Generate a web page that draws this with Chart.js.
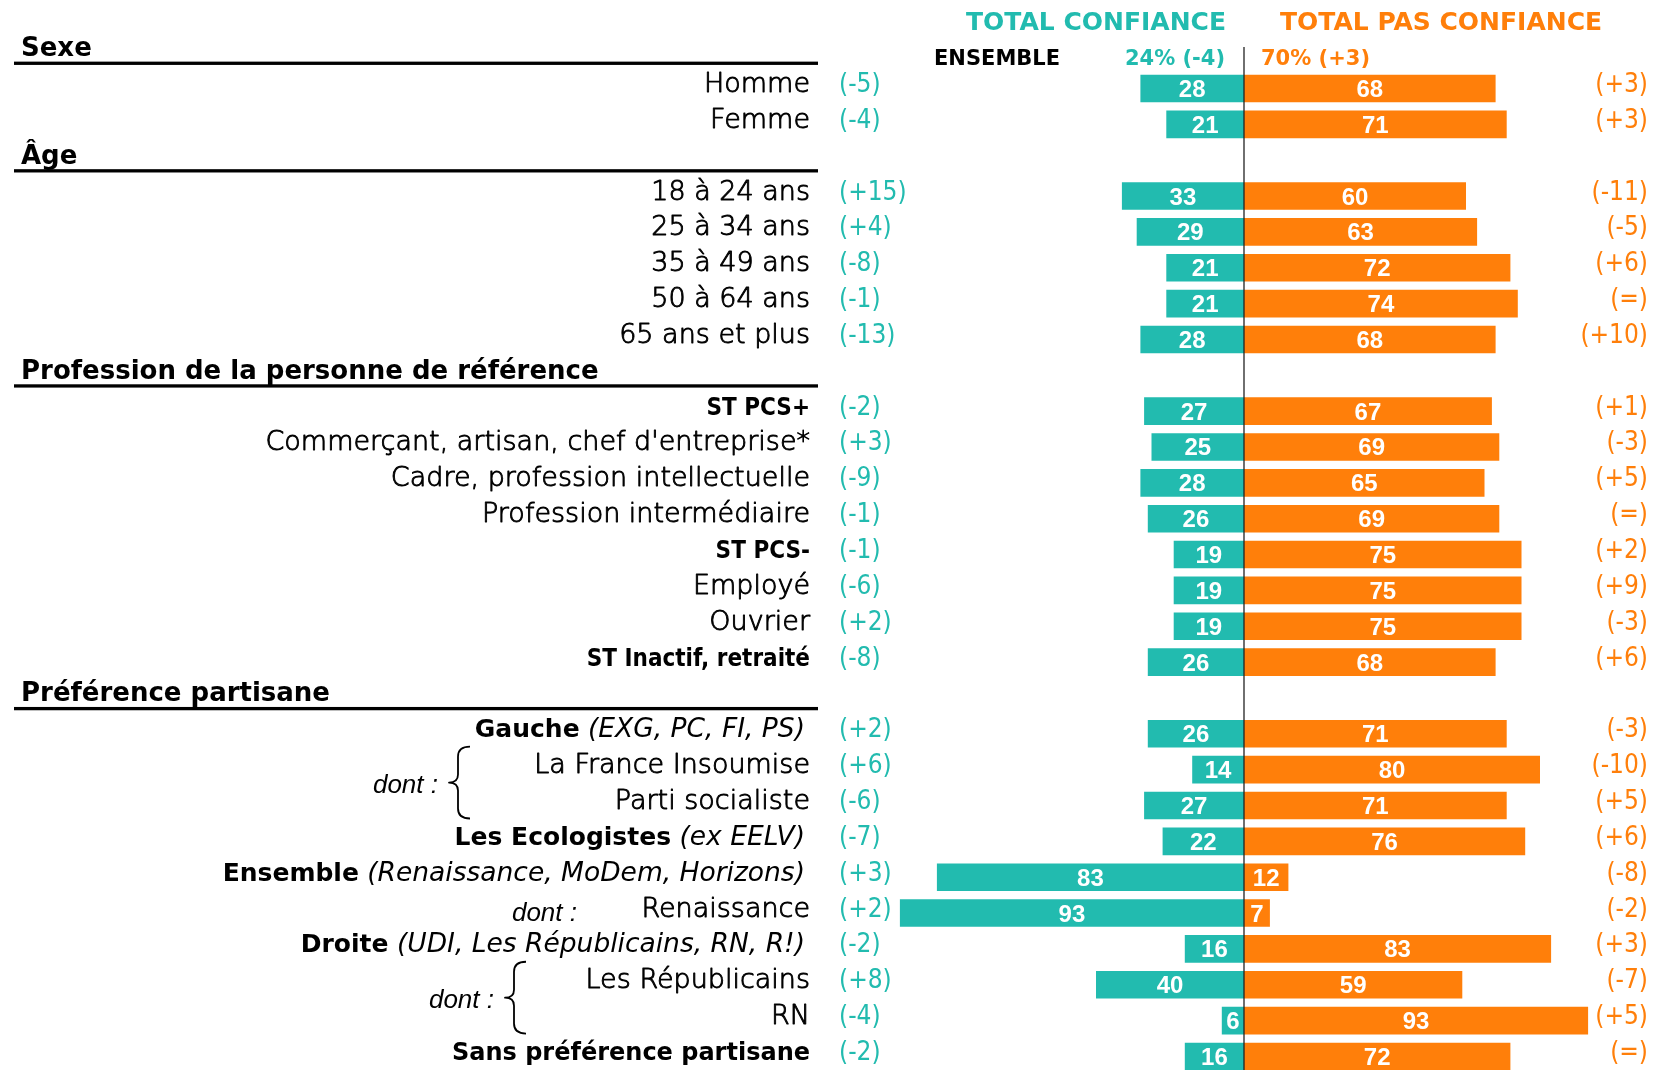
<!DOCTYPE html>
<html lang="fr">
<head>
<meta charset="utf-8">
<title>Confiance</title>
<script src="https://cdn.jsdelivr.net/npm/chart.js@4.4.1/dist/chart.umd.min.js"></script>
<style>
  html, body { margin: 0; padding: 0; background: #fff; overflow: hidden; }
  canvas { display: block; }
</style>
</head>
<body>
<canvas id="chart" width="1653" height="1090"></canvas>
<script>
// rows, including the four section headers (no bars on those)
const categories = [
  "Sexe", "Homme", "Femme",
  "Âge", "18 à 24 ans", "25 à 34 ans", "35 à 49 ans", "50 à 64 ans", "65 ans et plus",
  "Profession de la personne de référence", "ST PCS+", "Commerçant, artisan, chef d'entreprise*",
  "Cadre, profession intellectuelle", "Profession intermédiaire", "ST PCS-", "Employé", "Ouvrier", "ST Inactif, retraité",
  "Préférence partisane", "Gauche", "La France Insoumise", "Parti socialiste", "Les Ecologistes", "Ensemble",
  "Renaissance", "Droite", "Les Républicains", "RN", "Sans préférence partisane"
];
const headerRows = ["Sexe", "Âge", "Profession de la personne de référence", "Préférence partisane"];
const boldRows = ["ST PCS+", "ST PCS-", "ST Inactif, retraité", "Gauche", "Les Ecologistes", "Ensemble", "Droite", "Sans préférence partisane"];
const italicSuffix = {
  "Gauche": "(EXG, PC, FI, PS)",
  "Les Ecologistes": "(ex EELV)",
  "Ensemble": "(Renaissance, MoDem, Horizons)",
  "Droite": "(UDI, Les Républicains, RN, R!)"
};

const confiance = [null, 28, 21, null, 33, 29, 21, 21, 28, null, 27, 25, 28, 26, 19, 19, 19, 26, null, 26, 14, 27, 22, 83, 93, 16, 40, 6, 16];
const pasConfiance = [null, 68, 71, null, 60, 63, 72, 74, 68, null, 67, 69, 65, 69, 75, 75, 75, 68, null, 71, 80, 71, 76, 12, 7, 83, 59, 93, 72];
const evolConfiance = [null, "(-5)", "(-4)", null, "(+15)", "(+4)", "(-8)", "(-1)", "(-13)", null, "(-2)", "(+3)", "(-9)", "(-1)", "(-1)", "(-6)", "(+2)", "(-8)", null, "(+2)", "(+6)", "(-6)", "(-7)", "(+3)", "(+2)", "(-2)", "(+8)", "(-4)", "(-2)"];
const evolPasConfiance = [null, "(+3)", "(+3)", null, "(-11)", "(-5)", "(+6)", "(=)", "(+10)", null, "(+1)", "(-3)", "(+5)", "(=)", "(+2)", "(+9)", "(-3)", "(+6)", null, "(-3)", "(-10)", "(+5)", "(+6)", "(-8)", "(-2)", "(+3)", "(-7)", "(+5)", "(=)"];

const ensembleConfiance = "24% (-4)";
const ensemblePasConfiance = "70% (+3)";

// "dont :" annotations: [first row, last row] of the sub-group
const dontGroups = [["La France Insoumise", "Parti socialiste"], ["Renaissance", "Renaissance"], ["Les Républicains", "RN"]];

const TEAL = "#22bbaf";
const ORANGE = "#ff7f0a";
const LABEL_FONT = '"DejaVu Sans", sans-serif';
const COND_FONT = '"DejaVu Sans Condensed", "DejaVu Sans", sans-serif';
const NUM_FONT = '"Liberation Sans", Arial, sans-serif';

// thin font, slightly thickened so it reads like the original light geometric face
function lightText(ctx, text, px, py, color) {
  ctx.fillStyle = color;
  ctx.strokeStyle = color;
  ctx.lineWidth = 0.9;
  ctx.lineJoin = "round";
  ctx.fillText(text, px, py);
  ctx.strokeText(text, px, py);
}

const overlay = {
  id: "overlay",
  afterDatasetsDraw(chart) {
    const { ctx, scales: { x, y } } = chart;
    const zero = x.getPixelForValue(0);
    const rowY = (i) => y.getPixelForValue(i);
    ctx.save();

    // values inside the bars
    ctx.font = "bold 24px " + NUM_FONT;
    ctx.fillStyle = "#fff";
    ctx.textAlign = "center";
    ctx.textBaseline = "alphabetic";
    chart.data.datasets.forEach((ds, d) => {
      chart.getDatasetMeta(d).data.forEach((bar, i) => {
        if (ds.data[i] == null) return;
        ctx.fillText(String(Math.abs(ds.data[i])), (bar.x + bar.base) / 2, bar.y + 8.5);
      });
    });

    // centre line
    ctx.strokeStyle = "#222";
    ctx.lineWidth = 1.3;
    ctx.beginPath();
    ctx.moveTo(zero, 47);
    ctx.lineTo(zero, chart.height);
    ctx.stroke();

    // titles
    ctx.font = "bold 25px " + LABEL_FONT;
    ctx.fillStyle = TEAL;
    ctx.textAlign = "right";
    ctx.fillText("TOTAL CONFIANCE", zero - 18, 30);
    ctx.fillStyle = ORANGE;
    ctx.textAlign = "left";
    ctx.fillText("TOTAL PAS CONFIANCE", zero + 36, 30);

    ctx.font = "bold 21px " + LABEL_FONT;
    ctx.fillStyle = "#000";
    ctx.fillText("ENSEMBLE", 934, 65);
    ctx.fillStyle = TEAL;
    ctx.textAlign = "right";
    ctx.fillText(ensembleConfiance, zero - 19, 65);
    ctx.fillStyle = ORANGE;
    ctx.textAlign = "left";
    ctx.fillText(ensemblePasConfiance, zero + 17, 65);

    // row labels and evolutions
    categories.forEach((label, i) => {
      const cy = rowY(i);
      if (headerRows.includes(label)) {
        ctx.font = "bold 26px " + LABEL_FONT;
        ctx.fillStyle = "#000";
        ctx.textAlign = "left";
        ctx.fillText(label, 21, cy + 3.5);
        ctx.fillRect(14, cy + 9, 804, 3.3);
        return;
      }
      const base = cy + 3.5;
      ctx.textAlign = "right";
      ctx.fillStyle = "#000";
      const suffix = italicSuffix[label];
      if (suffix) {
        ctx.font = "oblique 26.5px " + LABEL_FONT;
        ctx.fillText(suffix, 805, base);
        const w = ctx.measureText(" " + suffix).width;
        ctx.font = "bold 25px " + LABEL_FONT;
        ctx.fillText(label, 805 - w, base);
      } else if (boldRows.includes(label)) {
        ctx.font = "bold 24px " + (label.startsWith("ST") ? COND_FONT : LABEL_FONT);
        ctx.fillText(label, 810, base);
      } else {
        ctx.font = "200 27px " + LABEL_FONT;
        lightText(ctx, label, 810, base, "#000");
      }
      ctx.font = "26px " + COND_FONT;
      ctx.textAlign = "left";
      ctx.fillStyle = TEAL;
      ctx.fillText(evolConfiance[i], 839, base);
      ctx.textAlign = "right";
      ctx.fillStyle = ORANGE;
      ctx.fillText(evolPasConfiance[i], 1648, base);
    });

    // "dont :" with braces
    ctx.fillStyle = "#000";
    ctx.strokeStyle = "#000";
    ctx.lineWidth = 1.8;
    ctx.font = "italic 26px " + NUM_FONT;
    ctx.textAlign = "right";
    dontGroups.forEach(([a, b]) => {
      const ia = categories.indexOf(a), ib = categories.indexOf(b);
      if (ia === ib) {
        ctx.fillText("dont :", 577, rowY(ia) + 8);
        return;
      }
      const mid = (rowY(ia) + rowY(ib)) / 2 - 5;
      const half = (rowY(ib) - rowY(ia)) / 2 + 18;
      const tip = a === "La France Insoumise" ? 449 : 505;
      ctx.fillText("dont :", tip - 11, mid + 10);
      const bx = tip + 9, ex = tip + 21;
      ctx.beginPath();
      ctx.moveTo(ex, mid - half);
      ctx.quadraticCurveTo(bx, mid - half, bx, mid - half + 10);
      ctx.lineTo(bx, mid - 8);
      ctx.quadraticCurveTo(bx, mid, tip, mid);
      ctx.quadraticCurveTo(bx, mid, bx, mid + 8);
      ctx.lineTo(bx, mid + half - 10);
      ctx.quadraticCurveTo(bx, mid + half, ex, mid + half);
      ctx.stroke();
    });
    ctx.restore();
  }
};

new Chart(document.getElementById("chart"), {
  type: "bar",
  data: {
    labels: categories,
    datasets: [
      { label: "Total confiance", data: confiance.map((v) => (v == null ? null : -v)), backgroundColor: TEAL },
      { label: "Total pas confiance", data: pasConfiance, backgroundColor: ORANGE }
    ]
  },
  options: {
    indexAxis: "y",
    responsive: false,
    animation: false,
    devicePixelRatio: 1,
    barPercentage: 0.77,
    categoryPercentage: 1,
    layout: { padding: { left: 874, right: 2, top: 34.7, bottom: 15.6 } },
    scales: {
      x: { stacked: true, min: -100, max: 110, display: false },
      y: { stacked: true, display: false }
    },
    plugins: { legend: { display: false }, tooltip: { enabled: false } }
  },
  plugins: [overlay]
});
</script>
</body>
</html>
